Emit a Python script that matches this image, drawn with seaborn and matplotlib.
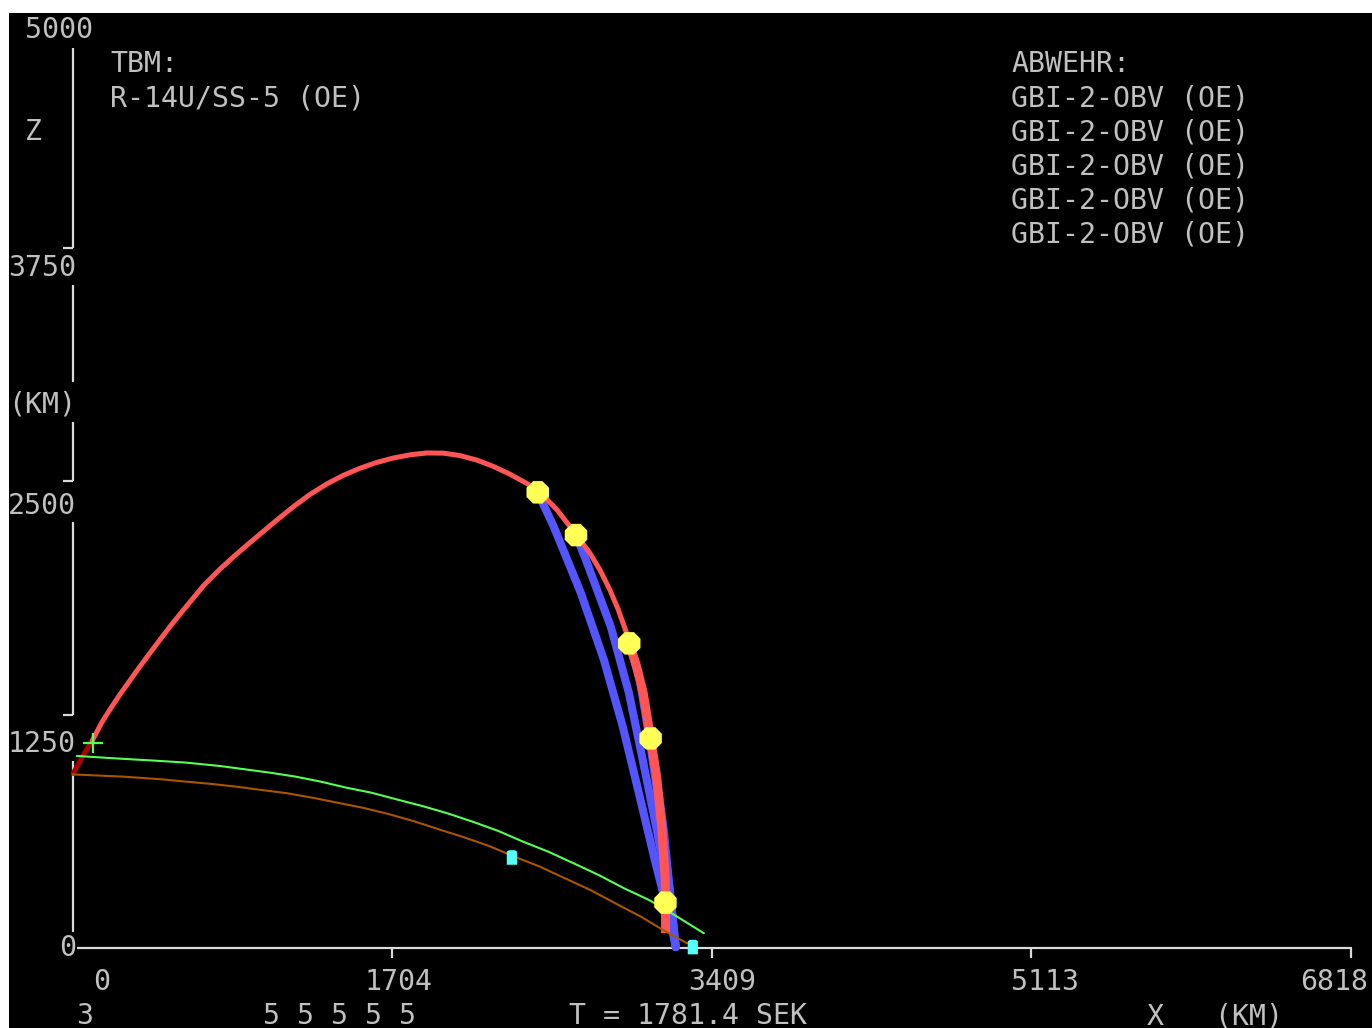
"""
Flugbahn TBM mit Abwehr (GBI) - Nachbau der DOS-Grafik.
"""

import matplotlib
matplotlib.use("Agg")
import matplotlib.pyplot as plt
import seaborn as sns

# --- Daten (km) ---
# Brennschluss-Phase (dunkelrot)
boost_x = [4, 58, 105]
boost_z = [936, 1034, 1110]

# ballistische Bahn der TBM
tbm_x = [105, 156, 200, 253, 307, 351, 396, 449, 520, 591, 698, 787, 858, 929,
         1000, 1089, 1178, 1267, 1356, 1444, 1533, 1622, 1711, 1800, 1889, 1977,
         2066, 2156, 2244, 2333, 2422, 2481, 2585, 2685, 2760, 2813, 2866, 2911,
         2955, 2969]
tbm_z = [1110, 1208, 1278, 1358, 1434, 1496, 1557, 1628, 1722, 1810, 1940, 2030,
         2095, 2157, 2217, 2292, 2364, 2430, 2486, 2532, 2570, 2601, 2625, 2642,
         2652, 2651, 2638, 2614, 2580, 2538, 2489, 2453, 2346, 2216, 2114, 2025,
         1918, 1811, 1686, 1632]
# Endphase (dick gezeichnet)
tbm_end_x = [2969, 3009, 3044, 3083, 3115, 3142, 3160, 3162, 3163]
tbm_end_z = [1632, 1507, 1364, 1123, 918, 650, 382, 243, 80]

# Abfangpunkte
hit_x = [2481, 2685, 2969, 3083, 3162]
hit_z = [2441, 2212, 1632, 1123, 243]

# Bahnen der Abfangraketen (Start -> Abfangpunkt)
gbi_x = [
    [3217, 3195, 3105, 3020, 2935, 2834, 2711, 2567, 2481],
    [3217, 3174, 3116, 3041, 2967, 2871, 2738, 2685],
    [3217, 3185, 3132, 3078, 3025, 2969],
    [3217, 3190, 3153, 3110, 3083],
]
gbi_z = [
    [5, 113, 472, 831, 1184, 1543, 1902, 2256, 2441],
    [5, 311, 632, 1007, 1367, 1720, 2079, 2212],
    [5, 311, 740, 1115, 1436, 1632],
    [5, 257, 632, 954, 1123],
]

# Erdoberflaeche
earth_x = [0, 270, 472, 607, 741, 876, 1011, 1145, 1280, 1415, 1549, 1684, 1818,
           1953, 2088, 2223, 2357, 2492, 2627, 2761, 2896, 3031, 3165, 3278]
earth_z = [930, 918, 904, 891, 879, 864, 846, 829, 805, 778, 751, 718, 680,
           636, 593, 546, 489, 436, 373, 311, 239, 168, 87, 25]
# Horizont
horiz_x = [23, 225, 450, 607, 786, 921, 1055, 1190, 1325, 1460, 1594, 1729, 1864,
           1998, 2133, 2268, 2402, 2537, 2672, 2806, 2941, 3075, 3210, 3367]
horiz_z = [1029, 1016, 1003, 993, 975, 957, 939, 918, 891, 859, 832, 796, 761,
           722, 677, 628, 570, 516, 454, 391, 320, 257, 177, 79]

# Stationen (Radar / Startplatz)
site_x = [2343, 3308]
site_z = [485, 5]
launch_x = [108]
launch_z = [1099]

xticks = [1704, 3409, 5113, 6818]
yticks = [1250, 2500, 3750]
xtick_labels = ["0", "1704", "3409", "5113", "6818"]
ytick_labels = ["5000", "3750", "2500", "1250", "0"]

# --- Layout: Pixel <-> km ---
W, H = 1372, 1028
X0, SX = 72.5, 0.18752      # px bei x=0, px pro km
Y0, SY = 948.0, 0.18667     # px bei z=0, px pro km
BG_LEFT, BG_TOP = 9, 13

TEXT = "#C0C0C0"
AXIS = "#DADADA"
RED, DARKRED = "#FF5555", "#AA0000"
BLUE, YELLOW = "#5555FF", "#FFFF55"
GREEN, BROWN, CYAN = "#55FF55", "#AA5500", "#55FFFF"

sns.set_theme(style="dark", rc={"axes.facecolor": "black"})
plt.rcParams["font.family"] = ["DejaVu Sans Mono"]

fig = plt.figure(figsize=(W / 100, H / 100), dpi=100, facecolor="white")
ax = fig.add_axes([BG_LEFT / W, 0, (W - BG_LEFT) / W, (H - BG_TOP) / H])
ax.set_facecolor("black")
ax.set_xlim((BG_LEFT - X0) / SX, (W - X0) / SX)
ax.set_ylim((Y0 - H) / SY, (Y0 - BG_TOP) / SY)
ax.set_xticks([])
ax.set_yticks([])
for sp in ax.spines.values():
    sp.set_visible(False)

# Achsen im DOS-Stil (unterbrochene z-Achse)
for z0, z1 in [(4820, 3750), (3550, 3030), (2820, 2500), (2280, 1250), (1000, 85)]:
    ax.plot([0, 0], [z0, z1], color=AXIS, lw=1.6, solid_capstyle="butt")
for t in yticks:
    ax.plot([-53, 0], [t, t], color=AXIS, lw=1.6, solid_capstyle="butt")
ax.plot([24, 6823], [0, 0], color=AXIS, lw=1.6, solid_capstyle="butt")
for t in xticks:
    ax.plot([t, t], [0, -54], color=AXIS, lw=1.6, solid_capstyle="butt")

# Abfangraketen
for gx, gz in zip(gbi_x, gbi_z):
    sns.lineplot(x=gx, y=gz, sort=False, estimator=None, color=BLUE,
                 linewidth=5.8, ax=ax, legend=False, zorder=2,
                 solid_joinstyle="round")

# TBM-Bahn
sns.lineplot(x=boost_x, y=boost_z, sort=False, estimator=None, color=DARKRED,
             linewidth=3.6, ax=ax, legend=False, zorder=3)
sns.lineplot(x=tbm_x, y=tbm_z, sort=False, estimator=None, color=RED,
             linewidth=3.6, ax=ax, legend=False, zorder=3, solid_joinstyle="round")
sns.lineplot(x=tbm_end_x, y=tbm_end_z, sort=False, estimator=None, color=RED,
             linewidth=6.5, ax=ax, legend=False, zorder=3,
             solid_joinstyle="round", solid_capstyle="butt")

# Erde und Horizont
sns.lineplot(x=earth_x, y=earth_z, sort=False, estimator=None, color=BROWN,
             linewidth=1.5, ax=ax, legend=False, zorder=4)
sns.lineplot(x=horiz_x, y=horiz_z, sort=False, estimator=None, color=GREEN,
             linewidth=1.5, ax=ax, legend=False, zorder=4)

# Marker
sns.scatterplot(x=hit_x, y=hit_z, marker="8", s=17.5 ** 2, color=YELLOW,
                edgecolor="none", ax=ax, legend=False, zorder=6)
site_marker = [(-0.35, -0.5), (0.35, -0.5), (0.35, 0.4), (0.2, 0.5),
               (-0.2, 0.5), (-0.35, 0.4)]
sns.scatterplot(x=site_x, y=site_z, marker=site_marker, s=10.5 ** 2, color=CYAN,
                edgecolor="none", ax=ax, legend=False, zorder=6)
sns.scatterplot(x=launch_x, y=launch_z, marker="+", s=15 ** 2, color=GREEN,
                linewidth=1.6, ax=ax, legend=False, zorder=6)


def dos_text(col, row, s):
    """Text im 17x34-Zeichenraster der DOS-Grafik."""
    fig.text((8 + 17 * col) / W, 1 - (38 + 34 * row) / H, s, ha="left",
             va="baseline", color=TEXT, fontsize=20.3)


# z-Achse
for (col, row), s in zip([(1, 0), (0, 7), (0, 14), (0, 21), (3, 27)], ytick_labels):
    dos_text(col, row, s)
dos_text(1, 3, "Z")
dos_text(0, 11, "(KM)")

# x-Achse
for col, s in zip([5, 21, 40, 59, 76], xtick_labels):
    dos_text(col, 28, s)
dos_text(4, 29, "3")
dos_text(15, 29, "5 5 5 5 5")
dos_text(33, 29, "T = 1781.4 SEK")
dos_text(67, 29, "X   (KM)")

# Beschriftung
dos_text(6, 1, "TBM:")
dos_text(6, 2, "R-14U/SS-5 (OE)")
dos_text(59, 1, "ABWEHR:")
for r in range(2, 7):
    dos_text(59, r, "GBI-2-OBV (OE)")

fig.savefig("out.png", dpi=100, facecolor="white")
